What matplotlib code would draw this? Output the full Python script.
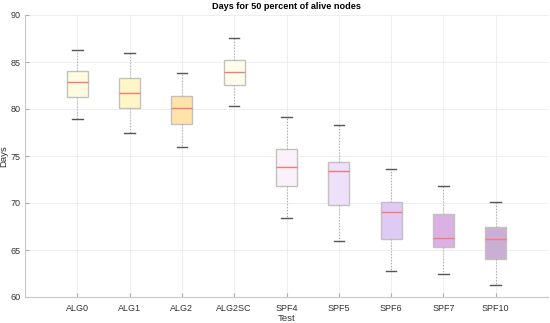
"""
Days for 50 percent of alive nodes - box plot per test
"""

import matplotlib.pyplot as plt

plt.rcParams['font.family'] = ['Liberation Sans', 'DejaVu Sans']

tests = ['ALG0', 'ALG1', 'ALG2', 'ALG2SC', 'SPF4', 'SPF5', 'SPF6', 'SPF7', 'SPF10']
whisk_lo = [78.9, 77.45, 75.95, 80.3, 68.4, 65.95, 62.75, 62.45, 61.3]
q1 = [81.25, 80.1, 78.45, 82.55, 71.8, 69.8, 66.15, 65.35, 64.05]
median = [82.85, 81.65, 80.15, 83.9, 73.8, 73.4, 69.0, 66.25, 66.15]
q3 = [84.0, 83.35, 81.35, 85.25, 75.75, 74.4, 70.15, 68.85, 67.4]
whisk_hi = [86.3, 86.0, 83.85, 87.55, 79.1, 78.25, 73.6, 71.8, 70.1]
box_colors = ['#FFFBE0', '#FFF6C8', '#FFE3A8', '#FFFDEC',
              '#FBF1FB', '#EEDFFA', '#DFCAF5', '#DBB0E3', '#CBAED3']

stats = []
for i, name in enumerate(tests):
    stats.append({'label': name, 'whislo': whisk_lo[i], 'q1': q1[i], 'med': median[i],
                  'q3': q3[i], 'whishi': whisk_hi[i], 'fliers': []})

fig = plt.figure(figsize=(5.5, 3.23), dpi=100)
ax = fig.add_axes([25 / 550, 26 / 323, 523 / 550, 282 / 323])

bp = ax.bxp(stats, positions=range(1, len(tests) + 1), widths=0.4,
            patch_artist=True, showfliers=False,
            boxprops=dict(edgecolor='#C4C0C0', linewidth=1.0),
            medianprops=dict(color='#F87878', linewidth=1.0),
            whiskerprops=dict(color='#A8A8A8', linestyle=':', linewidth=0.8),
            capprops=dict(color='#555555', linewidth=1.0),
            capwidths=0.2)
for patch, c in zip(bp['boxes'], box_colors):
    patch.set_facecolor(c)

ax.set_xlim(0, 10)
ax.set_ylim(60, 90)
ax.set_yticks([60, 65, 70, 75, 80, 85, 90])
ax.set_xticks(range(1, len(tests) + 1))
ax.set_xticklabels(tests)

ax.grid(True, color='#EBEBEB', linewidth=0.6)
ax.set_axisbelow(True)
for side in ['top', 'right']:
    ax.spines[side].set_visible(False)
for side in ['left', 'bottom']:
    ax.spines[side].set_color('#C8C8C8')
ax.tick_params(direction='in', length=3, color='#AAAAAA', labelsize=6.5,
               labelcolor='#333333')
ax.tick_params(axis='y', pad=3)
ax.tick_params(axis='x', pad=5)

ax.set_title('Days for 50 percent of alive nodes', fontsize=6.6, fontweight='bold', pad=4)
ax.set_xlabel('Test', fontsize=6.8, labelpad=1, color='#333333')
ax.set_ylabel('Days', fontsize=6.8, labelpad=2, color='#333333')

fig.savefig('out.png', dpi=100)
